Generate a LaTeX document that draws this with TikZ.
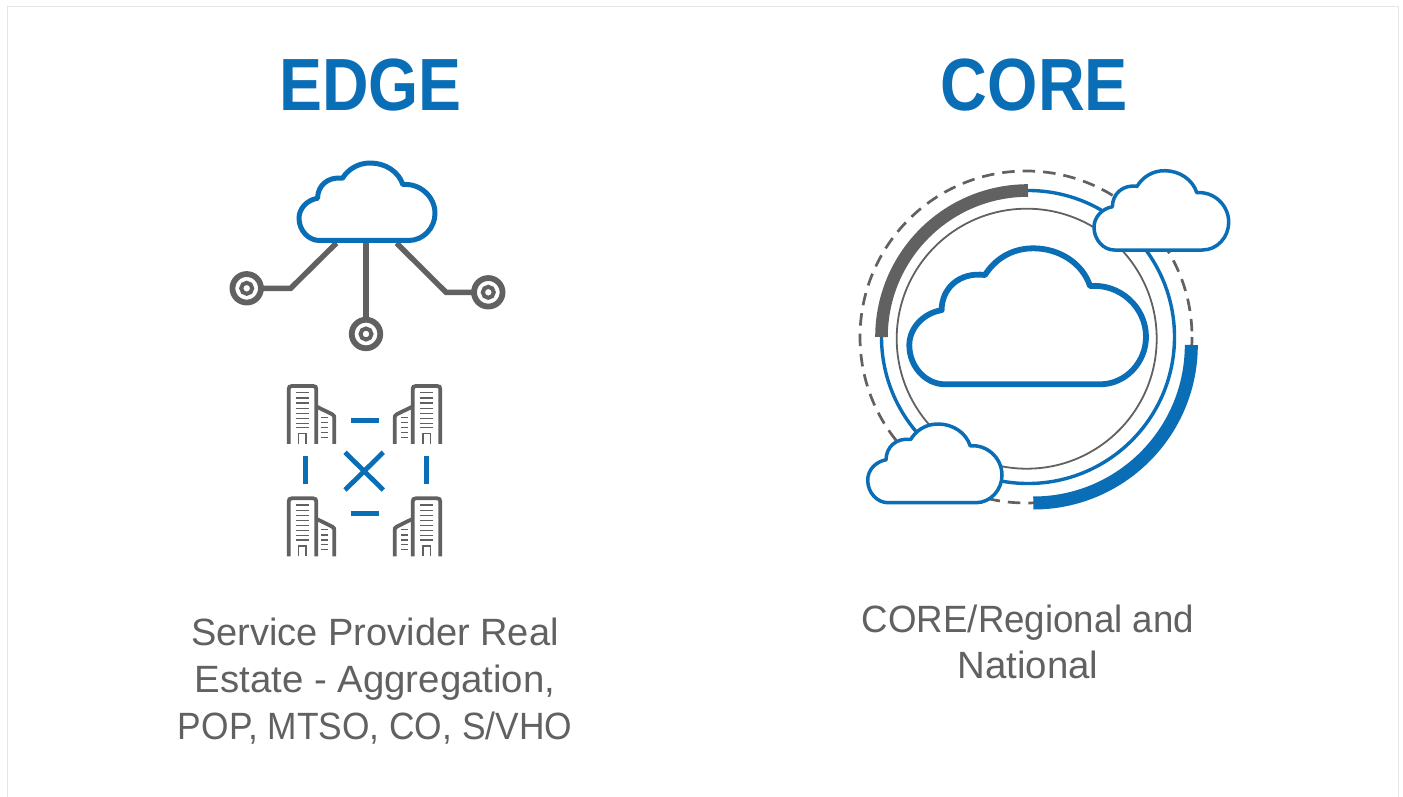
\documentclass[tikz,border=0pt]{standalone}
\usepackage{fontspec}
\usepackage{graphicx}
\setmainfont{Liberation Sans}
\definecolor{dblue}{HTML}{0A6EB6}
\definecolor{dgray}{HTML}{616161}
\definecolor{frame}{HTML}{E6E6E6}
\newcommand{\cloudshape}[5]{% x y w h linewidth (centre line bbox)
  \draw[blue cloud,line width=#5pt,shift={(#1,#2)},x=#3pt/710,y=-#4pt/407]
    (107,407) -- (572,407)
    .. controls (650,407) and (710,340) .. (710,265)
    .. controls (710,175) and (630,105) .. (542,113)
    .. controls (520,45) and (450,0) .. (372,0)
    .. controls (305,0) and (255,35) .. (227,80)
    .. controls (150,70) and (97,120) .. (97,185)
    .. controls (40,195) and (0,240) .. (0,290)
    .. controls (0,355) and (50,407) .. (107,407) -- cycle;}
\newcommand{\buildingicon}[3]{% mirror sign, dx, dy in zoom units
  \begin{scope}[x=#1pt/3,y=-1pt/3,shift={(#2,#3)},line cap=butt]
    \draw[bwall] (41,207) -- (41,43) .. controls (41,36) and (44,33) .. (51,33) -- (114,33)
      .. controls (121,33) and (124,36) .. (124,43) -- (124,207);
    \draw[bwall] (125,95) -- (172,118) .. controls (177,121) and (178,124) .. (178,130) -- (178,207);
    \foreach \yy in {53,69,84,100,115,130,145,158} \draw[bline] (62,\yy) -- (103,\yy);
    \foreach \yy in {127,143,158,172,187} \draw[bline] (138,\yy) -- (160,\yy);
    \draw[bline] (71,207) -- (71,176) -- (93,176) -- (93,207);
  \end{scope}}
\tikzset{
  blue cloud/.style={draw=dblue,fill=white,line join=round},
  bwall/.style={draw=dgray,line width=3.8pt},
  bline/.style={draw=dgray,line width=1.5pt},
  wire/.style={draw=dgray,line width=5.4pt,line join=miter},
  ring/.style={circle,draw=dgray,line width=5.8pt,fill=white,minimum size=28.5pt,inner sep=0pt,outer sep=0pt},
  hub/.style={circle,draw=dgray,line width=4pt,fill=white,minimum size=11pt,inner sep=0pt,outer sep=0pt},
  tick/.style={draw=dblue,line width=5pt},
  title/.style={text=dblue,font=\fontsize{74}{74}\selectfont\bfseries,inner sep=0pt,anchor=base},
  body/.style={text=dgray,align=center,inner sep=0pt},
}
\begin{document}
\begin{tikzpicture}[x=1pt,y=-1pt]
\useasboundingbox (0,0) rectangle (1403,797);
\fill[white] (0,0) rectangle (1403,797);
\draw[frame,line width=1pt] (7.5,810) -- (7.5,6.5) -- (1398.5,6.5) -- (1398.5,810);
% titles
\node[title] (edge) at (370.5,111) {\scalebox{0.87}[1]{EDGE}};
\node[title] (core) at (1034.5,111) {\scalebox{0.875}[1]{CORE}};
% edge cloud and endpoints
\coordinate (la) at (336.5,243);
\coordinate (ma) at (366,243);
\coordinate (ra) at (396.5,243);
\coordinate (lb) at (290.7,288.3);
\coordinate (rb) at (446,292.3);
\node[ring] (lr) at (246.7,288.3) {};
\node[ring] (mr) at (366,334) {};
\node[ring] (rr) at (488.3,292.3) {};
\draw[wire] (la) -- (lb) -- (lr);
\draw[wire] (ma) -- (mr);
\draw[wire] (ra) -- (rb) -- (rr);
\node[hub] at (lr) {};
\node[hub] at (mr) {};
\node[hub] at (rr) {};
\cloudshape{299}{163}{136}{77.5}{5}
% buildings
\buildingicon{1}{825}{1125}
\buildingicon{1}{825}{1462}
\buildingicon{-1}{-1362}{1125}
\buildingicon{-1}{-1362}{1462}
% blue marks
\draw[tick] (351,420) -- (379.3,420);
\draw[tick] (351,513.7) -- (379.3,513.7);
\draw[tick] (305,455.7) -- (305,484.3);
\draw[tick] (426,455.7) -- (426,484.3);
\draw[draw=dblue,line width=4.8pt] (345,452.3) -- (383.3,490);
\draw[draw=dblue,line width=4.8pt] (383.3,452.3) -- (345,490);
% core rings
\draw[draw=dgray,line width=2.7pt,dash pattern=on 12.5pt off 8pt] (1026,337) circle[radius=166];
\draw[draw=dgray,line width=1.8pt] (1026.7,338.7) circle[radius=130];
\draw[draw=dblue,line width=3.4pt] (1028,337) circle[radius=146.5];
\draw[draw=dgray,line width=12.6pt] (881.5,337) arc[start angle=180,end angle=90,x radius=146.5,y radius=-146.5];
\draw[draw=dblue,line width=13pt] (1191.3,345) arc[start angle=0,end angle=90,x radius=158,y radius=158];
\cloudshape{909.3}{248.3}{236.7}{136}{5.8}
\cloudshape{1094}{170.7}{134.7}{79.3}{3.5}
\cloudshape{867.7}{424}{134.3}{78.7}{3.5}
% captions
\node[body,font=\fontsize{38}{47}\selectfont] (cap1) at (375,681) {Service Provider Real\\\scalebox{1.01}[1]{Estate - Aggregation,}\\\scalebox{0.93}[1]{POP, MTSO, CO, S/VHO}};
\node[body,font=\fontsize{38}{46}\selectfont] (cap2) at (1028,642) {\scalebox{0.965}[1]{CORE/Regional and}\\\scalebox{1.01}[1]{National}};
\end{tikzpicture}
\end{document}
